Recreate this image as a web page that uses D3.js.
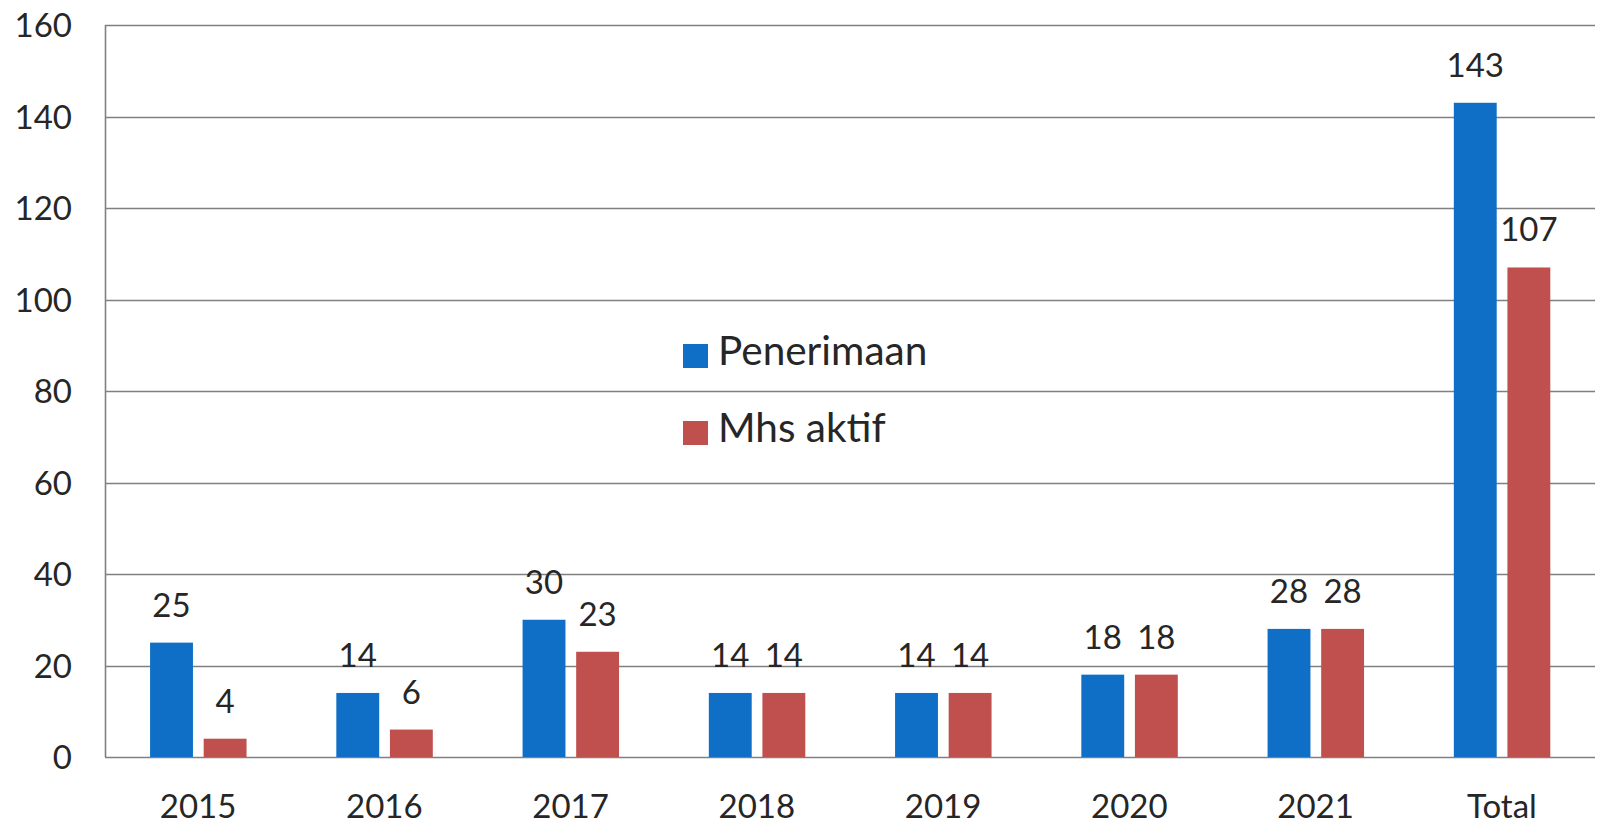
<!DOCTYPE html>
<html>
<head>
<meta charset="utf-8">
<script src="https://cdn.jsdelivr.net/npm/d3@7/dist/d3.min.js"></script>
<style>
  html, body { margin: 0; padding: 0; background: #fff; }
  svg { display: block; }
  text { font-family: Lato, "Open Sans", sans-serif; fill: #262626; }
</style>
</head>
<body>
<svg id="chart" width="1604" height="825"></svg>
<script>
const categories = ["2015", "2016", "2017", "2018", "2019", "2020", "2021", "Total"];
const seriesNames = ["Penerimaan", "Mhs aktif"];
const penerimaan = [25, 14, 30, 14, 14, 18, 28, 143];
const mhsAktif = [4, 6, 23, 14, 14, 18, 28, 107];
const yTicks = [0, 20, 40, 60, 80, 100, 120, 140, 160];
const colors = ["#0f6fc6", "#c0504d"];

const seriesValues = [penerimaan, mhsAktif];
const svg = d3.select("#chart");
const mLeft = 105, mRight = 1595, mTop = 25, mBottom = 757;
const fontSize = 33;
const legendFontSize = 40.5;

const x0 = d3.scaleBand().domain(categories).range([mLeft, mRight]).padding(0);
const bw = x0.bandwidth();
const x1 = d3.scaleBand().domain(seriesNames).range([bw * 0.242, bw * 0.76]).paddingInner(0.2).paddingOuter(0);
const y = d3.scaleLinear().domain([0, 160]).range([mBottom, mTop]);

// gridlines
svg.append("g").selectAll("line").data(yTicks).join("line")
  .attr("x1", mLeft).attr("x2", mRight)
  .attr("y1", d => Math.round(y(d)) + 0.5).attr("y2", d => Math.round(y(d)) + 0.5)
  .attr("stroke", "#808080").attr("stroke-width", 1.6);

// left axis line
svg.append("line")
  .attr("x1", mLeft + 0.5).attr("x2", mLeft + 0.5)
  .attr("y1", y(160)).attr("y2", y(0))
  .attr("stroke", "#808080").attr("stroke-width", 1.6);

// y tick labels
const yAxis = d3.axisLeft(y).tickValues(yTicks).tickSize(0).tickPadding(33);
const gy = svg.append("g").attr("transform", `translate(${mLeft},0)`).call(yAxis);
gy.select(".domain").remove();
gy.selectAll("text").attr("font-size", fontSize).attr("font-family", "Lato, 'Open Sans', sans-serif").attr("fill", "#262626").attr("dy", "0.36em");

// x labels
const xAxis = d3.axisBottom(x0).tickSize(0).tickPadding(61);
const gx = svg.append("g").attr("transform", `translate(0,${mBottom})`).call(xAxis);
gx.select(".domain").remove();
gx.selectAll("text").attr("font-size", fontSize).attr("font-family", "Lato, 'Open Sans', sans-serif").attr("fill", "#262626").attr("dy", "0");

// bars
const rows = categories.map((c, i) => ({ cat: c, vals: seriesNames.map((s, j) => ({ s, j, v: seriesValues[j][i] })) }));
const groups = svg.append("g").selectAll("g").data(rows).join("g")
  .attr("transform", d => `translate(${x0(d.cat)},0)`);
groups.selectAll("rect").data(d => d.vals).join("rect")
  .attr("x", d => x1(d.s)).attr("width", x1.bandwidth())
  .attr("y", d => y(d.v)).attr("height", d => y(0) - y(d.v))
  .attr("fill", d => colors[d.j]);
groups.selectAll("text").data(d => d.vals).join("text")
  .attr("x", d => x1(d.s) + x1.bandwidth() / 2)
  .attr("y", d => y(d.v) - 26)
  .attr("text-anchor", "middle")
  .attr("font-size", fontSize)
  .text(d => d.v);

// legend
const legend = svg.append("g").attr("transform", "translate(683,344)");
seriesNames.forEach((s, j) => {
  const g = legend.append("g").attr("transform", `translate(0,${j * 77})`);
  g.append("rect").attr("width", 25).attr("height", 24).attr("fill", colors[j]);
  g.append("text").attr("x", 35).attr("y", 21).attr("font-size", legendFontSize).text(s);
});
</script>
</body>
</html>
